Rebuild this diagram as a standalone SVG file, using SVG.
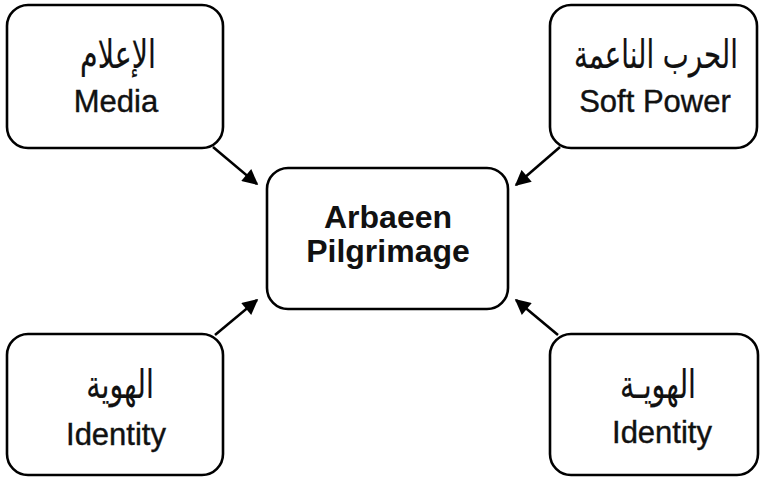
<svg xmlns="http://www.w3.org/2000/svg" width="760" height="480" viewBox="0 0 760 480">
<style>
.box{fill:#fff;stroke:#000;stroke-width:2.6}
.en{font-family:"Liberation Sans",Arial,sans-serif;font-size:31px;fill:#111;text-anchor:middle;stroke:#111;stroke-width:0.4}
.ar{font-family:"DejaVu Sans","Noto Sans",sans-serif;font-size:30px;fill:#111;text-anchor:middle;stroke:#111;stroke-width:0.15}
.ctr{font-family:"Liberation Sans",Arial,sans-serif;font-size:32px;font-weight:bold;fill:#111;text-anchor:middle}
.conn{stroke:#000;stroke-width:2.6;fill:none;marker-end:url(#ah)}
</style>
<defs>
<marker id="ah" viewBox="0 0 10 10" refX="9" refY="5" markerWidth="6.5" markerHeight="6" orient="auto" markerUnits="strokeWidth">
<path d="M0,0 L10,5 L0,10 z" fill="#000"/>
</marker>
</defs>
<rect width="760" height="480" fill="#fff"/>
<g id="connectors">
<line class="conn" x1="213" y1="147" x2="257" y2="184"/>
<line class="conn" x1="560" y1="147" x2="516" y2="185"/>
<line class="conn" x1="215" y1="335" x2="257" y2="300"/>
<line class="conn" x1="558" y1="335" x2="516" y2="300"/>
</g>
<g id="media">
<rect class="box" x="7" y="5" width="216" height="143" rx="21"/>
<text class="ar" transform="translate(118 68) scale(0.95 1.3)" direction="rtl">الإعلام</text>
<text class="en" x="116" y="112">Media</text>
</g>
<g id="softpower">
<rect class="box" x="550" y="5" width="207" height="143" rx="21"/>
<text class="ar" transform="translate(656 68) scale(0.92 1.3)" direction="rtl">الحرب الناعمة</text>
<text class="en" x="655" y="112">Soft Power</text>
</g>
<g id="arbaeen">
<rect class="box" x="267" y="168" width="241" height="141" rx="21"/>
<text class="ctr" x="388" y="228">Arbaeen</text>
<text class="ctr" x="388" y="262">Pilgrimage</text>
</g>
<g id="identity-left">
<rect class="box" x="7" y="334" width="216" height="141" rx="21"/>
<text class="ar" transform="translate(120 398) scale(0.95 1.3)" direction="rtl">الهوية</text>
<text class="en" x="116" y="445">Identity</text>
</g>
<g id="identity-right">
<rect class="box" x="550" y="334" width="208" height="141" rx="21"/>
<text class="ar" transform="translate(658 398) scale(0.95 1.3)" direction="rtl">الهويـة</text>
<text class="en" x="662" y="443">Identity</text>
</g>
</svg>
